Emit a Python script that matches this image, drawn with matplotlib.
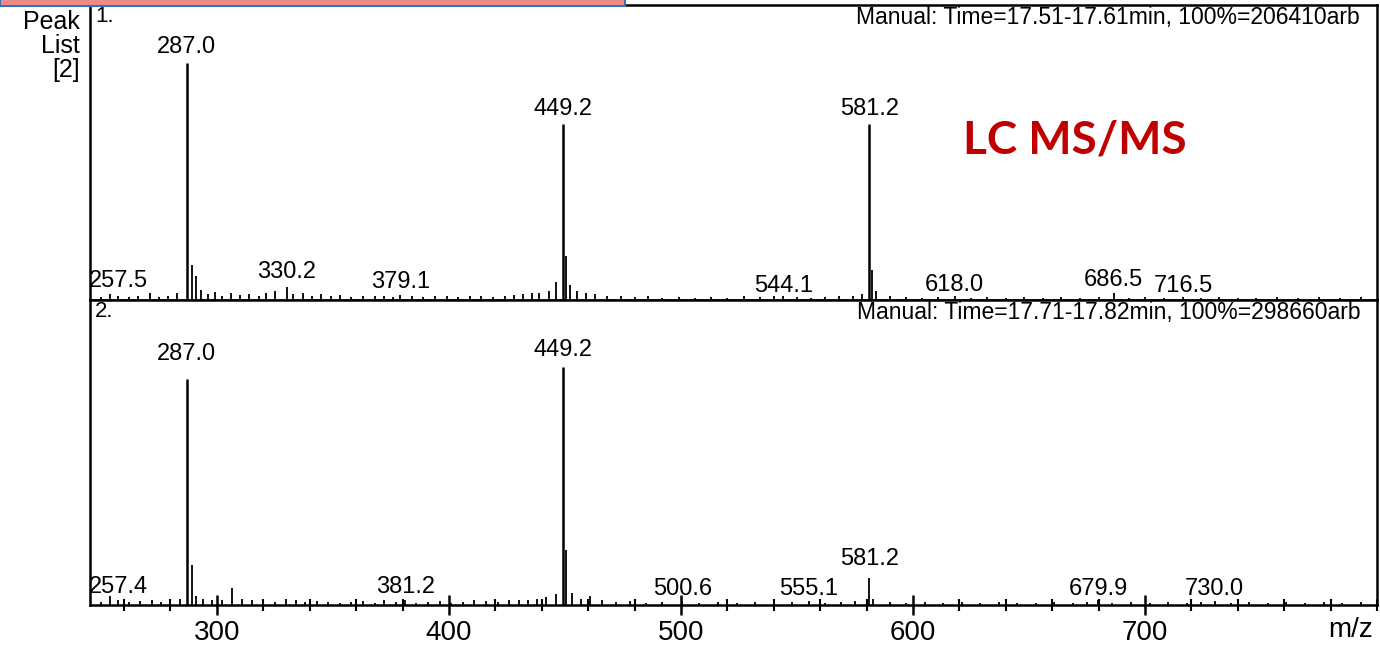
import matplotlib
matplotlib.use("Agg")
from matplotlib import pyplot as plt
from matplotlib.patches import Rectangle
from matplotlib.ticker import MultipleLocator

plt.rcParams['font.family'] = ['Liberation Sans', 'DejaVu Sans']

# spectrum 1 (Time=17.51-17.61min), relative intensity in %
top_main_mz = [287.0, 449.2, 581.2]
top_main_h = [80.5, 59.5, 59.5]
top_minor_mz = [250, 254, 257.5, 262, 266, 271, 275, 279, 283, 289.3,
                291.2, 293, 296, 299, 302, 306, 310, 314, 318, 321,
                325, 330.2, 333, 337, 341, 345, 349, 353, 358, 363,
                368, 372, 376, 379.1, 384, 389, 394, 399, 404, 409,
                414, 419, 424, 428, 432, 436, 439, 443, 446, 450.4,
                452, 455, 459, 463, 468, 474, 480, 486, 492, 499,
                506, 513, 520, 527, 534, 540, 544.1, 550, 556, 562,
                568, 574, 578, 582.4, 584, 590, 597, 604, 611, 618,
                625, 632, 640, 648, 656, 664, 672, 680, 686.5, 693,
                700, 708, 716.5, 724, 732, 740, 748, 757, 766, 775,
                784, 793]
top_minor_h = [1.0, 2.0, 1.5, 1.0, 1.2, 2.2, 1.0, 1.5, 2.5, 12.0,
               8.0, 3.5, 2.0, 2.8, 1.5, 2.5, 1.8, 2.0, 1.5, 2.2,
               3.0, 4.5, 2.0, 2.5, 1.5, 2.0, 1.2, 1.8, 1.0, 1.5,
               1.2, 1.5, 1.0, 1.8, 1.2, 1.0, 1.5, 1.2, 1.0, 1.4,
               1.2, 1.0, 1.5, 1.8, 2.0, 2.5, 2.2, 3.0, 6.0, 15.0,
               5.0, 3.0, 2.2, 2.0, 1.5, 1.2, 1.0, 1.2, 0.8, 1.0,
               0.8, 1.0, 0.8, 1.2, 1.0, 1.5, 1.2, 1.0, 0.8, 1.0,
               1.2, 1.5, 2.0, 10.0, 3.0, 1.2, 1.0, 0.8, 1.0, 1.2,
               0.8, 1.0, 0.8, 1.0, 0.8, 1.0, 0.8, 1.0, 2.5, 0.8,
               1.0, 0.8, 1.0, 0.8, 1.0, 0.8, 0.8, 1.0, 0.8, 1.0,
               0.8, 1.0]
top_labels = ["257.5", "287.0", "330.2", "379.1", "449.2", "544.1", "581.2", "618.0", "686.5", "716.5"]
top_label_y = [2.7, 82.0, 5.8, 2.4, 61.0, 1.0, 61.0, 1.5, 3.0, 1.0]

# spectrum 2 (Time=17.71-17.82min)
bot_main_mz = [287.0, 449.2]
bot_main_h = [74.0, 78.0]
bot_minor_mz = [250, 254, 257.4, 262, 267, 272, 276, 280, 284, 289.3,
                291, 294, 298, 302, 306.5, 311, 315, 320, 325, 330,
                334, 338, 343, 348, 353, 358, 363, 368, 372, 377,
                381.2, 386, 391, 396, 401, 406, 411, 416, 421, 426,
                430, 434, 438, 442, 446, 450.5, 453, 457, 461, 466,
                472, 478, 485, 492, 500.6, 508, 516, 524, 532, 540,
                548, 555.1, 562, 569, 575, 581.2, 583, 590, 597, 605,
                613, 621, 629, 637, 645, 653, 661, 669, 675, 679.9,
                686, 694, 702, 710, 718, 724, 730.0, 737, 745, 753,
                761, 769, 777, 785, 793]
bot_minor_h = [1.0, 3.0, 1.5, 1.0, 1.2, 1.5, 1.0, 1.5, 2.0, 13.0,
               3.0, 2.0, 1.5, 1.8, 5.5, 2.0, 1.5, 1.2, 1.0, 2.0,
               1.5, 1.0, 1.2, 1.0, 0.8, 1.0, 1.2, 0.8, 1.5, 1.0,
               1.5, 0.8, 1.0, 1.2, 0.8, 1.0, 1.5, 1.2, 1.0, 1.5,
               1.8, 1.5, 2.0, 2.5, 3.5, 18.0, 4.0, 2.0, 3.0, 1.5,
               1.0, 1.2, 0.8, 1.0, 1.2, 0.8, 1.0, 0.8, 1.0, 0.8,
               1.0, 1.2, 0.8, 1.0, 1.2, 9.0, 2.0, 1.0, 0.8, 1.0,
               0.8, 1.0, 0.8, 1.0, 0.8, 0.8, 1.0, 0.8, 1.0, 1.5,
               0.8, 1.0, 0.8, 1.0, 0.8, 1.0, 1.2, 0.8, 1.0, 0.8,
               1.0, 0.8, 1.0, 0.8, 1.0]
bot_labels = ["257.4", "287.0", "381.2", "449.2", "500.6", "555.1", "581.2", "679.9", "730.0"]
bot_label_y = [2.3, 78.7, 2.3, 80.0, 1.5, 1.5, 11.5, 1.5, 1.5]

headers = ["Manual: Time=17.51-17.61min, 100%=206410arb",
           "Manual: Time=17.71-17.82min, 100%=298660arb"]
xtick_vals = [300, 400, 500, 600, 700]

fig = plt.figure(figsize=(13.8, 6.49), dpi=100)
ax1 = fig.add_axes([0.0652, 0.5378, 0.9326, 0.4545])
ax2 = fig.add_axes([0.0652, 0.0678, 0.9326, 0.4700])

def draw_spec(ax, main_mz, main_h, minor_mz, minor_h, labels, label_y, num, header):
    ax.vlines(main_mz, 0, main_h, color='black', lw=1.8)
    ax.vlines(minor_mz, 0, minor_h, color='black', lw=1.3)
    for lab, y in zip(labels, label_y):
        ax.text(float(lab), y, lab, ha='center', va='bottom', fontsize=17, clip_on=True)
    ax.text(0.004, 0.995, num, transform=ax.transAxes, ha='left', va='top', fontsize=16)
    ax.text(0.987, 0.995, header, transform=ax.transAxes, ha='right', va='top', fontsize=16.5)
    ax.set_xlim(245.3, 800)
    ax.set_ylim(0, 100)
    ax.set_yticks([])
    for s in ax.spines.values():
        s.set_linewidth(1.8)

draw_spec(ax1, top_main_mz, top_main_h, top_minor_mz, top_minor_h, top_labels, top_label_y, "1.", headers[0])
draw_spec(ax2, bot_main_mz, bot_main_h, bot_minor_mz, bot_minor_h, bot_labels, bot_label_y, "2.", headers[1])

ax1.set_xticks([])
ax2.set_xticks(xtick_vals)
ax2.xaxis.set_minor_locator(MultipleLocator(20))
ax2.tick_params(axis='x', which='major', direction='inout', length=14, width=1.8, labelsize=20, pad=4)
ax2.tick_params(axis='x', which='minor', direction='inout', length=9, width=1.5)
ax2.text(0.997, -0.04, "m/z", transform=ax2.transAxes, ha='right', va='top', fontsize=20)

fig.text(0.058, 0.985, "Peak\nList\n[2]", ha='right', va='top', fontsize=18, linespacing=1.0)
fig.text(0.779, 0.784, "LC MS/MS", color='#C00000', fontsize=33, fontweight='bold',
         family=['Lato', 'DejaVu Sans'], ha='center', va='center')

# slide banner strip at the top left
fig.patches.append(Rectangle((0, 0.991), 0.453, 0.012, transform=fig.transFigure,
                             facecolor='#F08A8A', edgecolor='#3A6EB5', lw=1.5))

fig.savefig("out.png", dpi=100)
